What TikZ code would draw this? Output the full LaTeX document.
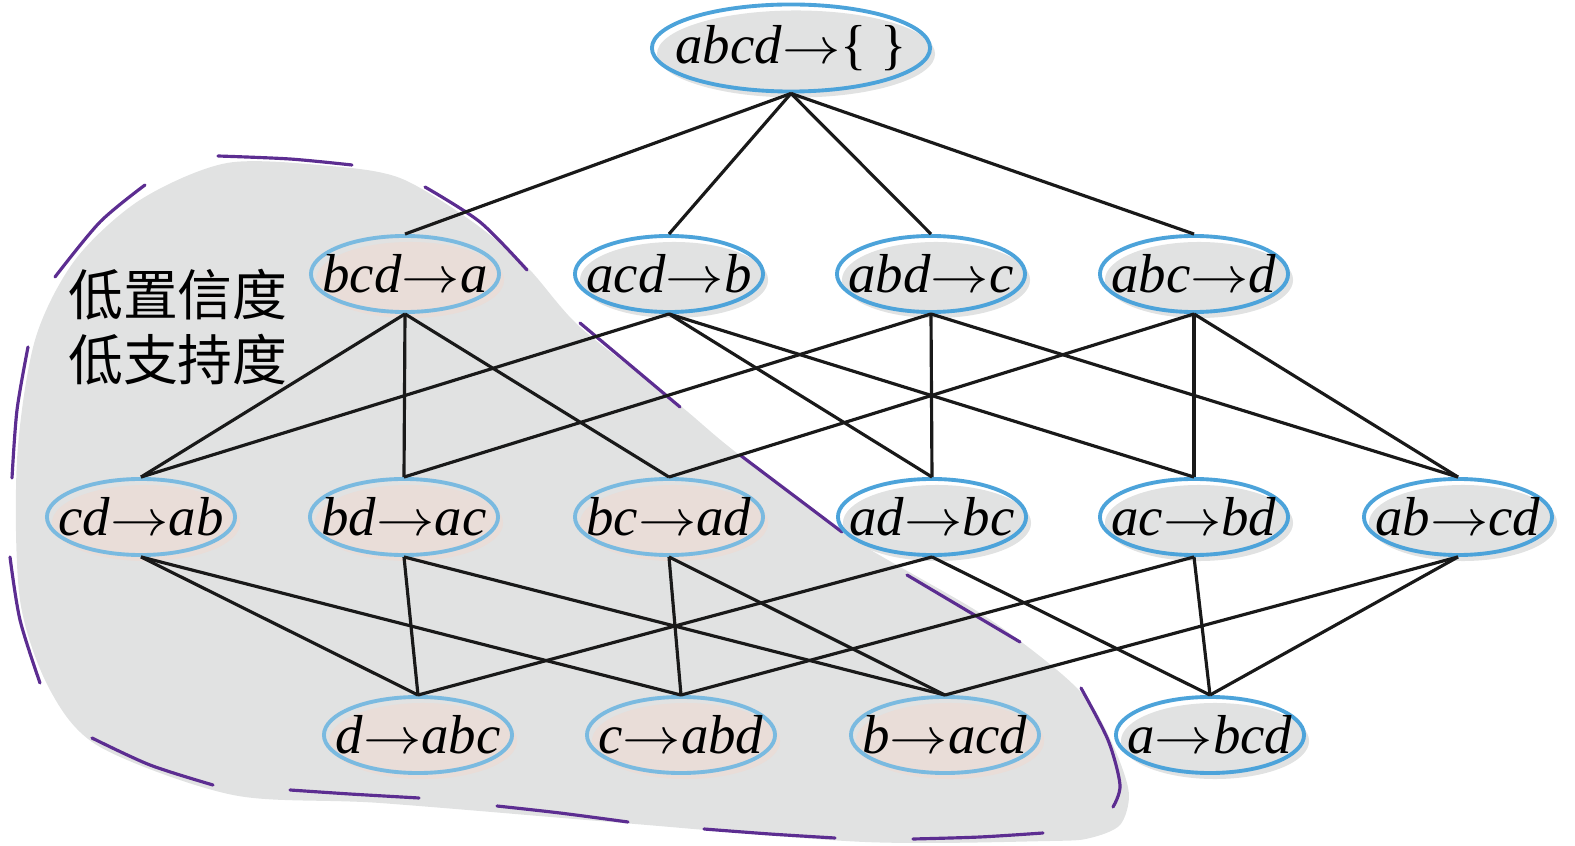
\documentclass[tikz,border=0pt]{standalone}
\usepackage{fontspec}
\setmainfont{Liberation Serif}
\newfontfamily\cjk{Noto Sans CJK SC}
\usetikzlibrary{shapes.geometric,shadows}
\definecolor{nodeblue}{RGB}{76,163,218}
\definecolor{paleblue}{RGB}{122,186,224}
\definecolor{lowpink}{RGB}{233,221,216}
\definecolor{regiongray}{RGB}{225,226,226}
\definecolor{dashpurple}{RGB}{92,45,145}
\newcommand{\ruleto}{\scalebox{1.15}[1]{$\rightarrow$}}
\newcommand{\rul}[2]{\makebox[0pt]{\textit{#1}\ruleto\textit{#2}}}
\tikzset{
  rulenode/.style={ellipse, line width=1.1pt, inner sep=0pt,
    minimum width=1.88cm, minimum height=0.76cm,
    font=\fontsize{15.6}{18}\selectfont},
  lownode/.style={rulenode, draw=paleblue,
    drop shadow={shadow xshift=0.05cm, shadow yshift=-0.06cm, fill=lowpink, opacity=1}},
  highnode/.style={rulenode, draw=nodeblue,
    drop shadow={shadow xshift=0.05cm, shadow yshift=-0.06cm, fill=regiongray, opacity=1}},
  link/.style={line width=0.9pt, black!90},
  borderdash/.style={dashpurple, line width=0.9pt, line cap=round}
}
\begin{document}
\begin{tikzpicture}[x=0.01cm, y=-0.01cm]
  \useasboundingbox (0,0) rectangle (1575,846);
  % low confidence / low support region
  \fill[regiongray] plot[smooth cycle, tension=0.5] coordinates {
    (227,163) (330,166) (400,178) (470,220) (527,267) (580,327) (677,403)
    (733,450) (843,533) (980,613) (1057,670) (1093,707) (1118,757) (1129,795)
    (1120,825) (1090,838) (1050,841) (865,842) (623,823) (380,803) (233,795)
    (100,747) (50,690) (20,600) (17,460) (35,340) (75,260) (140,200)};
  % its dashed border
  \draw[borderdash] plot[smooth] coordinates {(55,277) (100,222) (145,185)};
  \draw[borderdash] plot[smooth] coordinates {(218,156) (290,159) (352,165)};
  \draw[borderdash] plot[smooth] coordinates {(425,187) (480,222) (527,270)};
  \draw[borderdash] (580,323) -- (680,407);
  \draw[borderdash] (740,455) -- (842,532);
  \draw[borderdash] (907,575) -- (1020,642);
  \draw[borderdash] plot[smooth] coordinates {(1081,688) (1108,740) (1120,785) (1113,807)};
  \draw[borderdash] plot[smooth] coordinates {(1043,833) (980,837) (913,839)};
  \draw[borderdash] plot[smooth] coordinates {(835,838) (770,834) (704,829)};
  \draw[borderdash] plot[smooth] coordinates {(628,822) (560,813) (497,806)};
  \draw[borderdash] plot[smooth] coordinates {(419,798) (350,794) (290,790)};
  \draw[borderdash] plot[smooth] coordinates {(213,785) (150,765) (92,738)};
  \draw[borderdash] plot[smooth] coordinates {(40,683) (20,620) (10,557)};
  \draw[borderdash] plot[smooth] coordinates {(12,478) (17,410) (28,347)};
  \node[font=\cjk\fontsize{15.6}{18.4}\selectfont, align=left, inner sep=0pt]
    (lowlabel) at (178,327) {低置信度\\低支持度};
  % rules
  \node[highnode, minimum width=2.78cm, minimum height=0.87cm] (rabcd) at (791,48)
    {\makebox[0pt]{\textit{abcd}\ruleto\{\hspace{0.25em}\}}};
  \node[lownode]  (rbcd) at (405,274) {\rul{bcd}{a}};
  \node[highnode] (racd) at (669,274) {\rul{acd}{b}};
  \node[highnode] (rabd) at (931,274) {\rul{abd}{c}};
  \node[highnode] (rabc) at (1194,274) {\rul{abc}{d}};
  \node[lownode]  (rcd) at (141,517) {\rul{cd}{ab}};
  \node[lownode]  (rbd) at (404,517) {\rul{bd}{ac}};
  \node[lownode]  (rbc) at (669,517) {\rul{bc}{ad}};
  \node[highnode] (rad) at (932,517) {\rul{ad}{bc}};
  \node[highnode] (rac) at (1194,517) {\rul{ac}{bd}};
  \node[highnode] (rab) at (1458,517) {\rul{ab}{cd}};
  \node[lownode]  (rd) at (418,735) {\rul{d}{abc}};
  \node[lownode]  (rc) at (681,735) {\rul{c}{abd}};
  \node[lownode]  (rb) at (945,735) {\rul{b}{acd}};
  \node[highnode] (ra) at (1210,735) {\rul{a}{bcd}};
  % lattice edges
  \draw[link] (rabcd.south) -- (rbcd.north);
  \draw[link] (rabcd.south) -- (racd.north);
  \draw[link] (rabcd.south) -- (rabd.north);
  \draw[link] (rabcd.south) -- (rabc.north);
  \draw[link] (rbcd.south) -- (rcd.north);
  \draw[link] (rbcd.south) -- (rbd.north);
  \draw[link] (rbcd.south) -- (rbc.north);
  \draw[link] (racd.south) -- (rcd.north);
  \draw[link] (racd.south) -- (rad.north);
  \draw[link] (racd.south) -- (rac.north);
  \draw[link] (rabd.south) -- (rbd.north);
  \draw[link] (rabd.south) -- (rad.north);
  \draw[link] (rabd.south) -- (rab.north);
  \draw[link] (rabc.south) -- (rbc.north);
  \draw[link] (rabc.south) -- (rac.north);
  \draw[link] (rabc.south) -- (rab.north);
  \draw[link] (rcd.south) -- (rd.north);
  \draw[link] (rcd.south) -- (rc.north);
  \draw[link] (rbd.south) -- (rd.north);
  \draw[link] (rbd.south) -- (rb.north);
  \draw[link] (rbc.south) -- (rc.north);
  \draw[link] (rbc.south) -- (rb.north);
  \draw[link] (rad.south) -- (rd.north);
  \draw[link] (rad.south) -- (ra.north);
  \draw[link] (rac.south) -- (rc.north);
  \draw[link] (rac.south) -- (ra.north);
  \draw[link] (rab.south) -- (rb.north);
  \draw[link] (rab.south) -- (ra.north);
\end{tikzpicture}
\end{document}
